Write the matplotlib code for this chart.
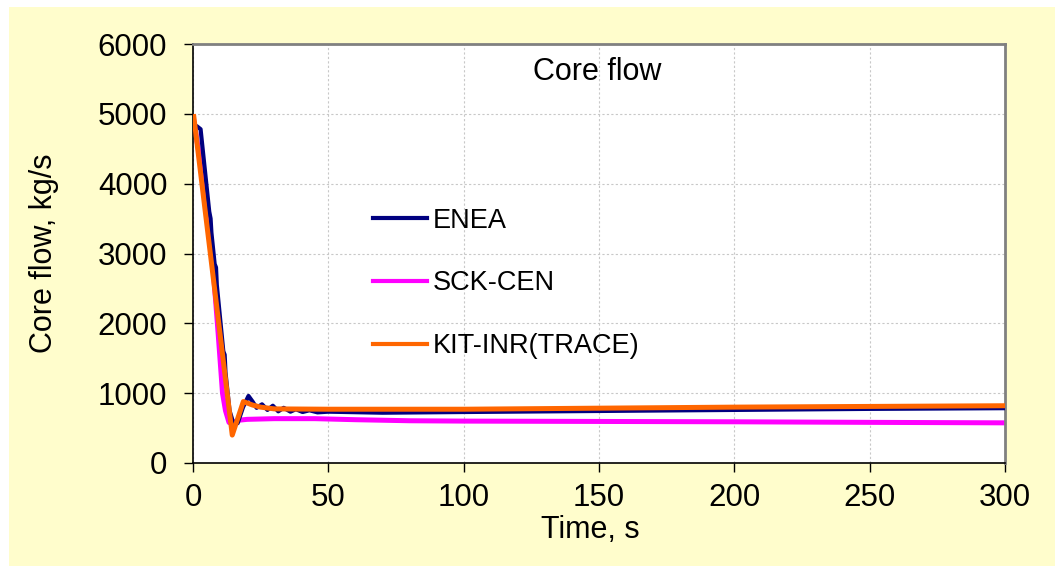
import matplotlib
matplotlib.use("Agg")
import matplotlib.pyplot as plt
from matplotlib.patches import Rectangle

plt.rcParams['font.family'] = ['Liberation Sans', 'DejaVu Sans']

# ENEA
enea_t = [0, 1.5, 2.8, 6.0, 6.5, 6.8, 8.0, 8.5, 8.8, 11.2, 11.7, 12.0, 13.5, 15.0, 16.5,
          18.5, 20.5, 22, 23.5, 25.5, 27.5, 29.5, 31.5, 33.5, 36, 38, 40.5, 43, 46, 50,
          70, 100, 150, 200, 250, 300]
enea_v = [4850, 4820, 4780, 3600, 3500, 3300, 2850, 2800, 2550, 1600, 1550, 1300, 750, 560, 570,
          800, 960, 880, 790, 840, 760, 820, 740, 790, 735, 770, 730, 755, 725, 735,
          720, 730, 745, 760, 775, 785]

# SCK-CEN
sck_t = [0.3, 4, 7, 9.3, 10.9, 12, 13.3, 14.5, 16, 17.5, 20, 30, 45, 60, 80, 100, 150, 200, 250, 300]
sck_v = [4900, 4000, 3000, 1850, 1000, 750, 580, 570, 600, 615, 625, 635, 635, 620, 605, 600, 595, 590, 582, 575]

# KIT-INR(TRACE)
kit_t = [0.3, 14.5, 18.6, 22, 25, 30, 50, 100, 150, 200, 250, 300]
kit_v = [4960, 400, 880, 830, 800, 775, 770, 770, 785, 800, 810, 820]

series_labels = ['ENEA', 'SCK-CEN', 'KIT-INR(TRACE)']
xticks = [0, 50, 100, 150, 200, 250, 300]
yticks = [0, 1000, 2000, 3000, 4000, 5000, 6000]

W, H = 1055, 568
fig = plt.figure(figsize=(W / 100, H / 100), dpi=100, facecolor='white')
bg = Rectangle((9 / W, 1 - 566 / H), (1055 - 9) / W, (566 - 7) / H,
               transform=fig.transFigure, facecolor='#FFFDCC',
               edgecolor='none', zorder=-10)
fig.add_artist(bg)

ax = fig.add_axes([193 / W, 1 - 463 / H, (1005 - 193) / W, (463 - 44) / H])
ax.set_zorder(5)
ax.set_facecolor('white')

ax.plot(enea_t, enea_v, color='#000080', lw=3.0, label=series_labels[0], zorder=3)
ax.plot(sck_t, sck_v, color='#FF00FF', lw=3.6, label=series_labels[1], zorder=2)
ax.plot(kit_t, kit_v, color='#FF6600', lw=3.6, label=series_labels[2], zorder=4)

ax.set_xlim(0, 300)
ax.set_ylim(0, 6000)
ax.set_xticks(xticks)
ax.set_yticks(yticks)
ax.grid(True, color='#C8C8C8', linestyle=(0, (2, 2)), linewidth=0.8)
ax.set_axisbelow(True)

ax.tick_params(axis='both', direction='out', length=6.5, width=1, labelsize=22.5, color='black')
ax.tick_params(axis='y', pad=12)
ax.tick_params(axis='x', pad=8)

for s in ['left', 'bottom']:
    ax.spines[s].set_color('black')
    ax.spines[s].set_linewidth(1.2)
for s in ['top', 'right']:
    ax.spines[s].set_color('#808080')
    ax.spines[s].set_linewidth(2)

ax.set_xlabel('Time, s', fontsize=22)
ax.set_ylabel('Core flow, kg/s', fontsize=22)
ax.xaxis.set_label_coords(0.489, -0.125)
ax.yaxis.set_label_coords(-0.165, 0.5)

ax.text(0.4975, 0.933, 'Core flow', transform=ax.transAxes, ha='center', va='center', fontsize=22)

leg = ax.legend(loc='upper left', bbox_to_anchor=(373 / W, 1 - 207.5 / H), bbox_transform=fig.transFigure,
                frameon=False, fontsize=19.5, handlelength=2.0, handletextpad=0.2,
                labelspacing=1.36, borderpad=0, borderaxespad=0)
for line in leg.get_lines():
    line.set_linewidth(3.0)

fig.savefig('out.png', dpi=100, facecolor='white')
